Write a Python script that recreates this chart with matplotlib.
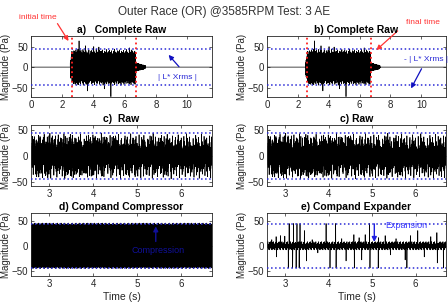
"""Outer race AE signal: raw, compressed and expanded views (2x3 panel figure)."""
import numpy as np
import matplotlib
matplotlib.use("Agg")
import matplotlib.pyplot as plt

plt.rcParams["font.family"] = ["Liberation Sans", "DejaVu Sans"]

# ---- data ----
DT = 0.0025
T_END = 11.6
BURST = (2.52, 6.72)          # start / end of the recorded burst (s)
MARK_T = [2.6, 6.72]          # initial / final time markers
LIMIT = 44                    # | L* Xrms |

# relative sample pattern inside the burst
raw_core = [12, 18, 9, 21, 15, 7, 19, 26, 11, 16, 8, 22, 14, 30, 10, 17, 6,
            20, 13, 24, 9, 15, 18, 11, 28, 8, 16, 12, 21, 7, 14, 19, 10, 25,
            13, 17, 9, 23, 11, 15, 20]
# burst envelope scale, one value per 0.1 s from 2.52 s
burst_env = [0.9, 1.25, 1.35, 1.2, 1.4, 1.3, 1.15, 1.35, 1.25, 1.4,
             1.2, 1.3, 1.1, 1.35, 1.25, 1.15, 1.3, 1.2, 1.05, 1.3,
             1.2, 1.1, 1.25, 1.15, 1.3, 1.05, 1.2, 1.1, 1.25, 1.0,
             1.15, 1.2, 1.05, 1.1, 1.2, 1.0, 1.15, 1.05, 1.1, 1.0,
             1.05, 0.95]
# decaying tail after the burst, one value per 0.1 s from 6.72 s
tail_env = [9, 8, 7, 6, 5, 4]
tail_core = [1.0, 0.6, 0.9, 0.4, 0.8, 0.5, 1.0, 0.7, 0.3]

raw_up_t = [2.61, 2.66, 2.75, 2.79, 2.88, 2.95, 3.01, 3.06, 3.14, 3.20,
            3.27, 3.33, 3.36, 3.45, 3.52, 3.58, 3.66, 3.71, 3.79, 3.84,
            3.93, 3.99, 4.04, 4.13, 4.18, 4.26, 4.31, 4.38, 4.46, 4.51,
            4.57, 4.64, 4.72, 4.77, 4.85, 4.90, 4.97, 5.04, 5.10, 5.15,
            5.24, 5.29, 5.36, 5.41, 5.49, 5.55, 5.61, 5.68, 5.74, 5.80,
            5.87, 5.93, 6.00, 6.06, 6.12, 6.19, 6.27, 6.33, 6.39, 6.46,
            6.52, 6.58, 6.64, 6.69]
raw_up_v = [38, 33, 40, 35, 42, 37, 44, 36, 39, 41,
            34, 43, 38, 36, 40, 35, 37, 42, 33, 39,
            36, 41, 38, 34, 44, 37, 35, 40, 38, 36,
            42, 34, 39, 37, 43, 35, 38, 41, 36, 40,
            33, 39, 44, 37, 35, 40, 38, 42, 34, 39,
            36, 41, 35, 38, 43, 37, 34, 40, 36, 42,
            38, 35, 39, 37]
raw_dn_t = [2.63, 2.71, 2.77, 2.84, 2.91, 2.97, 3.03, 3.10, 3.17, 3.23,
            3.29, 3.35, 3.41, 3.48, 3.54, 3.61, 3.68, 3.74, 3.81, 3.87,
            3.95, 4.01, 4.07, 4.11, 4.20, 4.24, 4.33, 4.40, 4.44, 4.53,
            4.59, 4.62, 4.69, 4.75, 4.82, 4.88, 4.95, 5.01, 5.08, 5.14,
            5.20, 5.27, 5.34, 5.38, 5.46, 5.53, 5.59, 5.66, 5.70, 5.77,
            5.83, 5.89, 5.96, 6.02, 6.09, 6.15, 6.21, 6.29, 6.35, 6.41,
            6.48, 6.54, 6.60, 6.67]
raw_dn_v = [-36, -40, -33, -42, -38, -35, -43, -37, -41, -34,
            -39, -44, -36, -38, -42, -35, -40, -37, -33, -41,
            -39, -36, -43, -35, -38, -40, -34, -42, -37, -39,
            -35, -44, -38, -36, -41, -33, -40, -37, -42, -39,
            -35, -38, -43, -36, -40, -34, -41, -37, -39, -44,
            -35, -38, -42, -36, -40, -33, -39, -41, -37, -43,
            -35, -38, -40, -42]
# peaks only visible in the complete (a, b) views
full_peak_t = [3.08, 3.50, 3.62, 4.02, 4.35, 4.70, 5.12, 6.30]
full_peak_v = [64, 52, -58, 50, 49, -53, -72, 47]

comp_core = [40, 42, 38, 43, 41, 36, 44, 39, 42, 37, 41, 43, 38, 40, 45, 39, 42]

exp_core = [2, 4, 3, 6, 2, 5, 3, 8, 4, 2, 5, 3, 7]
exp_t = [2.69, 2.79, 2.80, 2.89, 2.99, 3.07, 3.09, 3.17, 3.19, 3.25, 3.27,
         3.32, 3.34, 3.44, 3.49, 3.62, 3.75, 3.94, 4.03, 4.16, 4.17, 4.30,
         4.40, 4.58, 4.59, 4.70, 4.76, 4.84, 4.94, 4.95, 5.14, 5.15, 5.30,
         5.42, 5.55, 5.76, 5.80, 5.88, 6.05, 6.20, 6.35, 6.49, 6.50, 6.64]
exp_v = [12, 18, -22, 20, 19, -44, 44, -44, 44, -44, 44,
         -44, 44, 30, -30, 12, -14, 44, -44, 44, -44, 14,
         -30, 22, -44, 16, -28, 22, 44, -44, -44, 16, 20,
         -18, 14, -28, -44, 20, 30, -22, 18, 26, -34, -44]

# ---- build the traces ----
t = np.arange(0, T_END, DT)
sign = np.where(np.arange(t.size) % 2 == 0, 1.0, -1.0)


def idx(times):
    return np.round(np.asarray(times) / DT).astype(int)


def stepped(values, start, n):
    # hold each 0.1 s value over its bin
    k = np.floor((t[start:start + n] - t[start]) / 0.1).astype(int)
    return np.asarray(values, float)[np.clip(k, 0, len(values) - 1)]


raw = np.zeros_like(t)
i0, i1 = idx([BURST[0], BURST[1]])
n = i1 - i0
raw[i0:i1] = sign[i0:i1] * np.resize(raw_core, n) * stepped(burst_env, i0, n)
nt = len(tail_env) * int(round(0.1 / DT))
raw[i1:i1 + nt] = sign[i1:i1 + nt] * np.resize(tail_core, nt) * stepped(tail_env, i1, nt)
raw[idx(raw_up_t)] = raw_up_v
raw[idx(raw_dn_t)] = raw_dn_v

full = raw.copy()
full[idx(full_peak_t)] = full_peak_v

win = (t >= 2.55) & (t <= 6.72)
tw = t[win]
comp = sign[win] * np.resize(comp_core, tw.size)
expd = sign[win] * np.resize(exp_core, tw.size)
expd[np.round((np.asarray(exp_t) - tw[0]) / DT).astype(int)] = exp_v

# ---- figure ----
W, H = 448, 305
fig = plt.figure(figsize=(W / 100, H / 100), dpi=100)
LINE = "#262626"
BLUE = "#2a2ad6"


def axes_px(x0, y0, x1, y1):
    return fig.add_axes([x0 / W, 1 - y1 / H, (x1 - x0) / W, (y1 - y0) / H])


def style(ax, title, xlim, ylim, xticks):
    ax.set_xlim(*xlim)
    ax.set_ylim(*ylim)
    ax.set_xticks(xticks)
    ax.set_yticks([-50, 0, 50])
    ax.tick_params(direction="in", top=True, right=True, length=2, width=0.5,
                   labelsize=7, colors=LINE, pad=2)
    for s in ax.spines.values():
        s.set_color(LINE)
        s.set_linewidth(0.6)
    ax.set_title(title, fontsize=7.5, fontweight="bold", pad=2, color="black")
    ax.set_ylabel("Magnitude (Pa)", fontsize=7, color=LINE, labelpad=0.5)
    for y in (LIMIT, -LIMIT):
        ax.axhline(y, color=BLUE, ls=":", lw=1.1, zorder=3)


ax_a = axes_px(31, 36, 212, 97)
ax_b = axes_px(267, 36, 446, 97)
ax_c = axes_px(31, 125, 212, 186)
ax_c2 = axes_px(267, 125, 446, 186)
ax_d = axes_px(31, 213, 212, 276)
ax_e = axes_px(267, 213, 446, 276)

for ax, title in ((ax_a, "a)   Complete Raw"), (ax_b, "b) Complete Raw")):
    ax.plot(t, full, color="black", lw=0.5)
    style(ax, title, (0, T_END), (-73, 76), [0, 2, 4, 6, 8, 10])
    for m in MARK_T:
        ax.axvline(m, color="#ff2020", ls=":", lw=1.3, zorder=4)

for ax, title in ((ax_c, "c)  Raw"), (ax_c2, "c) Raw")):
    ax.plot(t, raw, color="black", lw=0.5)
    style(ax, title, (2.58, 6.7), (-58, 60), [3, 4, 5, 6])

ax_d.plot(tw, comp, color="black", lw=0.5)
style(ax_d, "d) Compand Compressor", (2.58, 6.7), (-60, 65), [3, 4, 5, 6])
ax_e.plot(tw, expd, color="black", lw=0.5)
style(ax_e, "e) Compand Expander", (2.58, 6.7), (-60, 65), [3, 4, 5, 6])
for ax in (ax_d, ax_e):
    ax.set_xlabel("Time (s)", fontsize=7.5, color=LINE, labelpad=2)

RED = "#ff3333"
arrow = dict(arrowstyle="-|>", lw=0.9, mutation_scale=7)

# a) initial time, | L* Xrms |
ax_a.annotate("", xy=(2.5, 58), xytext=(1.6, 112), annotation_clip=False,
              arrowprops=dict(arrow, color=RED))
ax_a.text(0.45, 121, "initial time", color=RED, fontsize=6, ha="center",
          va="center", clip_on=False)
ax_a.annotate("", xy=(8.7, 35), xytext=(9.6, -4),
              arrowprops=dict(arrow, color="#1010c0"))
ax_a.text(9.4, -25, "| L* Xrms |", color=BLUE, fontsize=6, ha="center", va="center")

# b) final time, -| L* Xrms |
ax_b.annotate("", xy=(6.95, 37), xytext=(8.6, 93), annotation_clip=False,
              arrowprops=dict(arrow, color=RED))
ax_b.text(10.1, 109, "final time", color=RED, fontsize=6, ha="center",
          va="center", clip_on=False)
ax_b.annotate("", xy=(9.25, -58), xytext=(10.1, 2),
              arrowprops=dict(arrow, color="#1010c0"))
ax_b.text(10.3, 19, "- | L* Xrms |", color=BLUE, fontsize=6, ha="center",
          va="center", clip_on=False)

# d) Compression
ax_d.annotate("", xy=(5.42, 44), xytext=(5.42, 3),
              arrowprops=dict(arrow, color="#10109a", lw=1.0), zorder=5)
ax_d.text(5.47, -9, "Compression", color="#10109a", fontsize=6.5, ha="center",
          va="center", zorder=5)

# e) Expansion
ax_e.annotate("", xy=(5.05, 2), xytext=(5.05, 49),
              arrowprops=dict(arrow, color="#2020e0", lw=1.0), zorder=5)
ax_e.text(5.78, 40, "Expansion", color="#3a3aff", fontsize=6.5, ha="center",
          va="center", zorder=5)

fig.text(0.5, 1 - 12 / H, "Outer Race (OR) @3585RPM Test: 3 AE", ha="center",
         va="center", fontsize=8.5, color="#333333")

fig.savefig("out.png", dpi=100, facecolor="white")
